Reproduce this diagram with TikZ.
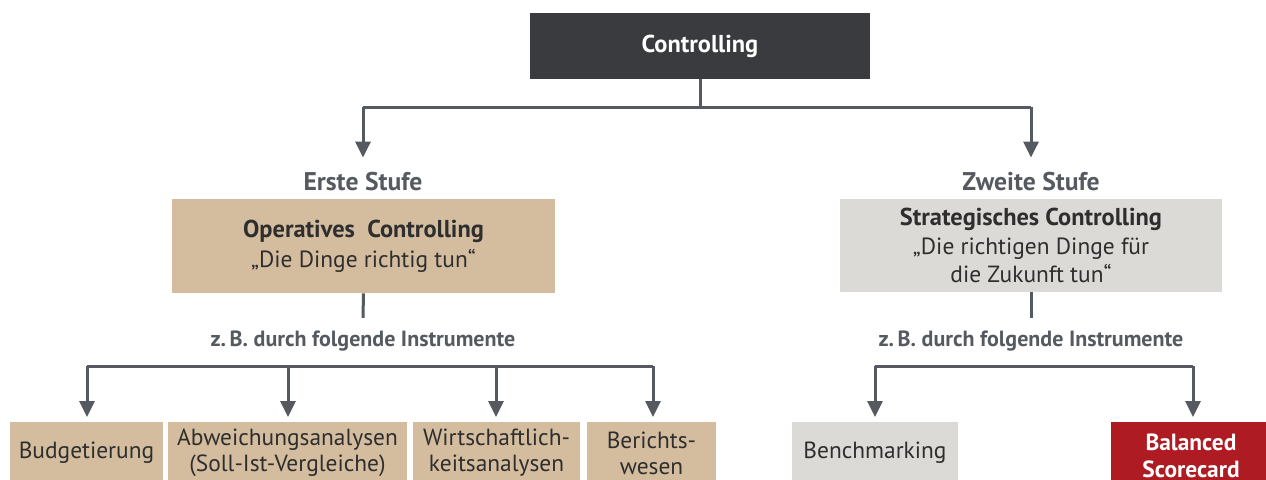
\documentclass[tikz,border=0pt]{standalone}
\usepackage{fontspec}
\setmainfont{PT Sans}
\usetikzlibrary{arrows.meta, calc}
\definecolor{dunkel}{HTML}{393B3E}
\definecolor{sand}{HTML}{D4BD9F}
\definecolor{hellgrau}{HTML}{DCDAD6}
\definecolor{rot}{HTML}{AF1B22}
\definecolor{linie}{HTML}{555A60}
\definecolor{schrift}{HTML}{2E2E2E}
\tikzset{
  kasten/.style={inner sep=0pt, align=center, text=schrift, font=\fontsize{11.7}{13}\selectfont},
  stufe/.style={text=linie, font=\fontsize{12.8}{14}\selectfont\bfseries},
  hinweis/.style={text=linie, font=\fontsize{11}{12}\selectfont\bfseries},
  linienzug/.style={linie, line width=1.5pt},
  pfeil/.style={linie, line width=1.5pt, -{Triangle[length=8pt, width=7.5pt]}}
}
\begin{document}
\begin{tikzpicture}[x=0.5pt, y=-0.5pt]
\useasboundingbox (0,0) rectangle (1266,479);
% oben
\node[kasten, fill=dunkel, text=white, minimum width=170pt, minimum height=33pt, font=\fontsize{12.2}{14}\selectfont\bfseries] (ctrl) at (700,46) {Controlling};
\coordinate (knick) at (700,107);
\coordinate (li) at (363,107);
\coordinate (re) at (1031,107);
% erste stufe
\node[stufe] (erste) at (363,182) {Erste Stufe};
\node[kasten, fill=sand, minimum width=191.5pt, minimum height=47pt] (oper) at (363.5,246)
  {\textbf{\fontsize{12.2}{14}\selectfont Operatives\ \ Controlling}\\[2pt]„Die Dinge richtig tun“};
\node[hinweis] (inst1) at (363,341) {z.\,B. durch folgende Instrumente};
% zweite stufe
\node[stufe] (zweite) at (1031,182) {Zweite Stufe};
\node[kasten, fill=hellgrau, minimum width=191pt, minimum height=46.5pt, font=\fontsize{11.7}{14.3}\selectfont] (strat) at (1031,245.5)
  {\textbf{\fontsize{12.2}{14.3}\selectfont Strategisches Controlling}\\„Die richtigen Dinge für\\die Zukunft tun“};
\node[hinweis] (inst2) at (1031,341) {z.\,B. durch folgende Instrumente};
% instrumente
\node[kasten, fill=sand, minimum width=76.5pt, minimum height=31pt] (budget) at (86.5,453) {Budgetierung};
\node[kasten, fill=sand, minimum width=119.5pt, minimum height=31pt] (abw) at (287.5,453) {Abweichungsanalysen\\(Soll-Ist-Vergleiche)};
\node[kasten, fill=sand, minimum width=83.5pt, minimum height=31pt] (wirt) at (496.5,453) {Wirtschaftlich-\\keitsanalysen};
\node[kasten, fill=sand, minimum width=64.5pt, minimum height=31pt] (bericht) at (651.5,453) {Berichts-\\wesen};
\node[kasten, fill=hellgrau, minimum width=83pt, minimum height=31pt] (bench) at (875,453) {Benchmarking};
\node[kasten, fill=rot, text=white, minimum width=80pt, minimum height=34pt, font=\fontsize{11.7}{13.5}\selectfont\bfseries] (bsc) at (1191,456) {Balanced\\Scorecard};
% verbindungen
\draw[linienzug] (ctrl.south) -- (knick);
\draw[linienzug] (li) -- (re);
\draw[pfeil] (li) -- ($(erste.north)+(0,-8)$);
\draw[pfeil] (re) -- ($(zweite.north)+(0,-8)$);
\draw[linienzug] (oper.south) -- ($(inst1.north)+(0,-6)$);
\draw[linienzug] (strat.south) -- ($(inst2.north)+(0,-6)$);
\coordinate (l1) at (87,366);
\coordinate (l2) at (653,366);
\coordinate (r1) at (875,366);
\coordinate (r2) at (1193,366);
\draw[linienzug] (l1) -- (l2);
\draw[linienzug] (r1) -- (r2);
\foreach \ziel/\xk in {budget/87, abw/288, wirt/496, bericht/653, bench/875, bsc/1193}
  \draw[pfeil] (\xk,366) -- (\xk,417);
\end{tikzpicture}
\end{document}
